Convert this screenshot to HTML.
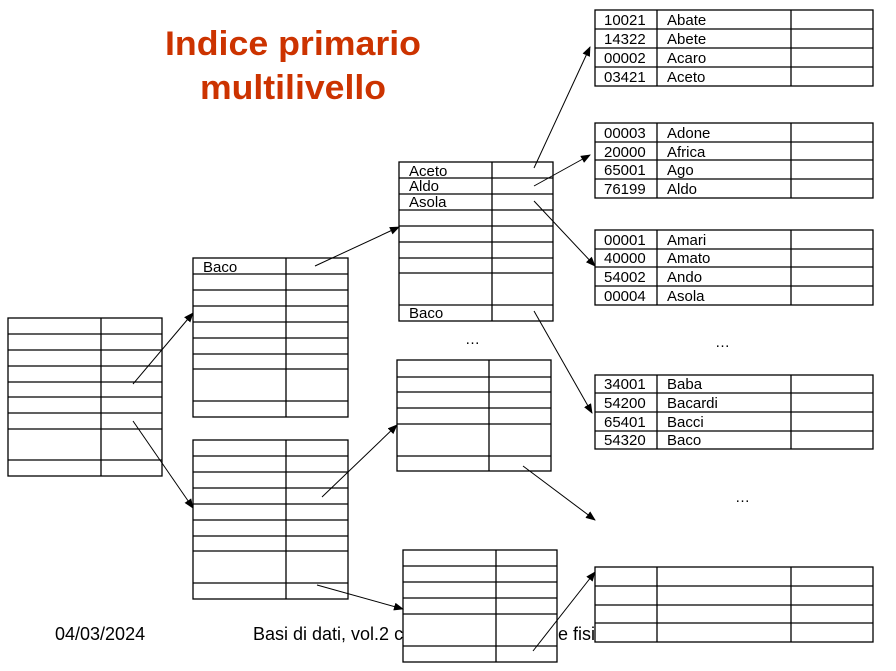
<!DOCTYPE html>
<html><head><meta charset="utf-8"><style>
html,body{margin:0;padding:0;background:#fff;}
svg{display:block;}
text{font-family:"Liberation Sans",sans-serif;}
</style></head><body>
<svg width="896" height="671" viewBox="0 0 896 671" xmlns="http://www.w3.org/2000/svg">
<defs><marker id="a" markerWidth="10" markerHeight="8" refX="9" refY="4" orient="auto" markerUnits="userSpaceOnUse"><path d="M0,0 L10,4 L0,8 z" fill="#000"/></marker></defs>
<text x="293" y="55" text-anchor="middle" font-size="34" font-weight="bold" fill="#cc3300" textLength="256" lengthAdjust="spacingAndGlyphs">Indice primario</text>
<text x="293" y="99" text-anchor="middle" font-size="34" font-weight="bold" fill="#cc3300" textLength="186" lengthAdjust="spacingAndGlyphs">multilivello</text>
<text x="55" y="640" font-size="18">04/03/2024</text>
<text x="253" y="640" font-size="18">Basi di dati, vol.2 capitolo</text>
<text x="558" y="640" font-size="18">e fisi</text>
<g fill="#fff" stroke="#000" stroke-width="1.3">
<rect x="8" y="318" width="154" height="158"/>
<path d="M101 318V476M8 334H162M8 350H162M8 366H162M8 382H162M8 397H162M8 413H162M8 429H162M8 460H162"/>
<rect x="193" y="258" width="155" height="159"/>
<path d="M286 258V417M193 274H348M193 290H348M193 306H348M193 322H348M193 338H348M193 354H348M193 369H348M193 401H348"/>
<rect x="193" y="440" width="155" height="159"/>
<path d="M286 440V599M193 456H348M193 472H348M193 488H348M193 504H348M193 520H348M193 536H348M193 551H348M193 583H348"/>
<rect x="399" y="162" width="154" height="159"/>
<path d="M492 162V321M399 178H553M399 194H553M399 210H553M399 226H553M399 242H553M399 258H553M399 273H553M399 305H553"/>
<rect x="397" y="360" width="154" height="111"/>
<path d="M489 360V471M397 377H551M397 392H551M397 408H551M397 424H551M397 456H551"/>
<rect x="403" y="550" width="154" height="112"/>
<path d="M496 550V662M403 566H557M403 582H557M403 598H557M403 614H557M403 646H557"/>
<rect x="595" y="10" width="278" height="76"/>
<path d="M657 10V86M791 10V86M595 29H873M595 48H873M595 67H873"/>
<rect x="595" y="123" width="278" height="75"/>
<path d="M657 123V198M791 123V198M595 142H873M595 160H873M595 179H873"/>
<rect x="595" y="230" width="278" height="75"/>
<path d="M657 230V305M791 230V305M595 249H873M595 267H873M595 286H873"/>
<rect x="595" y="375" width="278" height="74"/>
<path d="M657 375V449M791 375V449M595 393H873M595 412H873M595 431H873"/>
<rect x="595" y="567" width="278" height="75"/>
<path d="M657 567V642M791 567V642M595 586H873M595 605H873M595 623H873"/>
</g>
<g font-size="15" fill="#000">
<text x="203" y="272">Baco</text>
<text x="409" y="176">Aceto</text>
<text x="409" y="191">Aldo</text>
<text x="409" y="207">Asola</text>
<text x="409" y="318">Baco</text>
<text x="604" y="25">10021</text><text x="667" y="25">Abate</text>
<text x="604" y="44">14322</text><text x="667" y="44">Abete</text>
<text x="604" y="63">00002</text><text x="667" y="63">Acaro</text>
<text x="604" y="82">03421</text><text x="667" y="82">Aceto</text>
<text x="604" y="138">00003</text><text x="667" y="138">Adone</text>
<text x="604" y="157">20000</text><text x="667" y="157">Africa</text>
<text x="604" y="175">65001</text><text x="667" y="175">Ago</text>
<text x="604" y="194">76199</text><text x="667" y="194">Aldo</text>
<text x="604" y="245">00001</text><text x="667" y="245">Amari</text>
<text x="604" y="263">40000</text><text x="667" y="263">Amato</text>
<text x="604" y="282">54002</text><text x="667" y="282">Ando</text>
<text x="604" y="301">00004</text><text x="667" y="301">Asola</text>
<text x="604" y="389">34001</text><text x="667" y="389">Baba</text>
<text x="604" y="408">54200</text><text x="667" y="408">Bacardi</text>
<text x="604" y="427">65401</text><text x="667" y="427">Bacci</text>
<text x="604" y="445">54320</text><text x="667" y="445">Baco</text>
<text x="465" y="344">…</text>
<text x="715" y="347">…</text>
<text x="735" y="502">…</text>
</g>
<g stroke="#000" stroke-width="1" marker-end="url(#a)">
<line x1="133" y1="384" x2="193" y2="313"/>
<line x1="133" y1="421" x2="193" y2="508"/>
<line x1="315" y1="266" x2="399" y2="227"/>
<line x1="322" y1="497" x2="397" y2="425"/>
<line x1="317" y1="585" x2="403" y2="609"/>
<line x1="534" y1="168" x2="590" y2="47"/>
<line x1="534" y1="186" x2="590" y2="155"/>
<line x1="534" y1="201" x2="595" y2="266"/>
<line x1="534" y1="311" x2="592" y2="413"/>
<line x1="523" y1="466" x2="595" y2="520"/>
<line x1="533" y1="651" x2="595" y2="572"/>
</g>
</svg>
</body></html>
